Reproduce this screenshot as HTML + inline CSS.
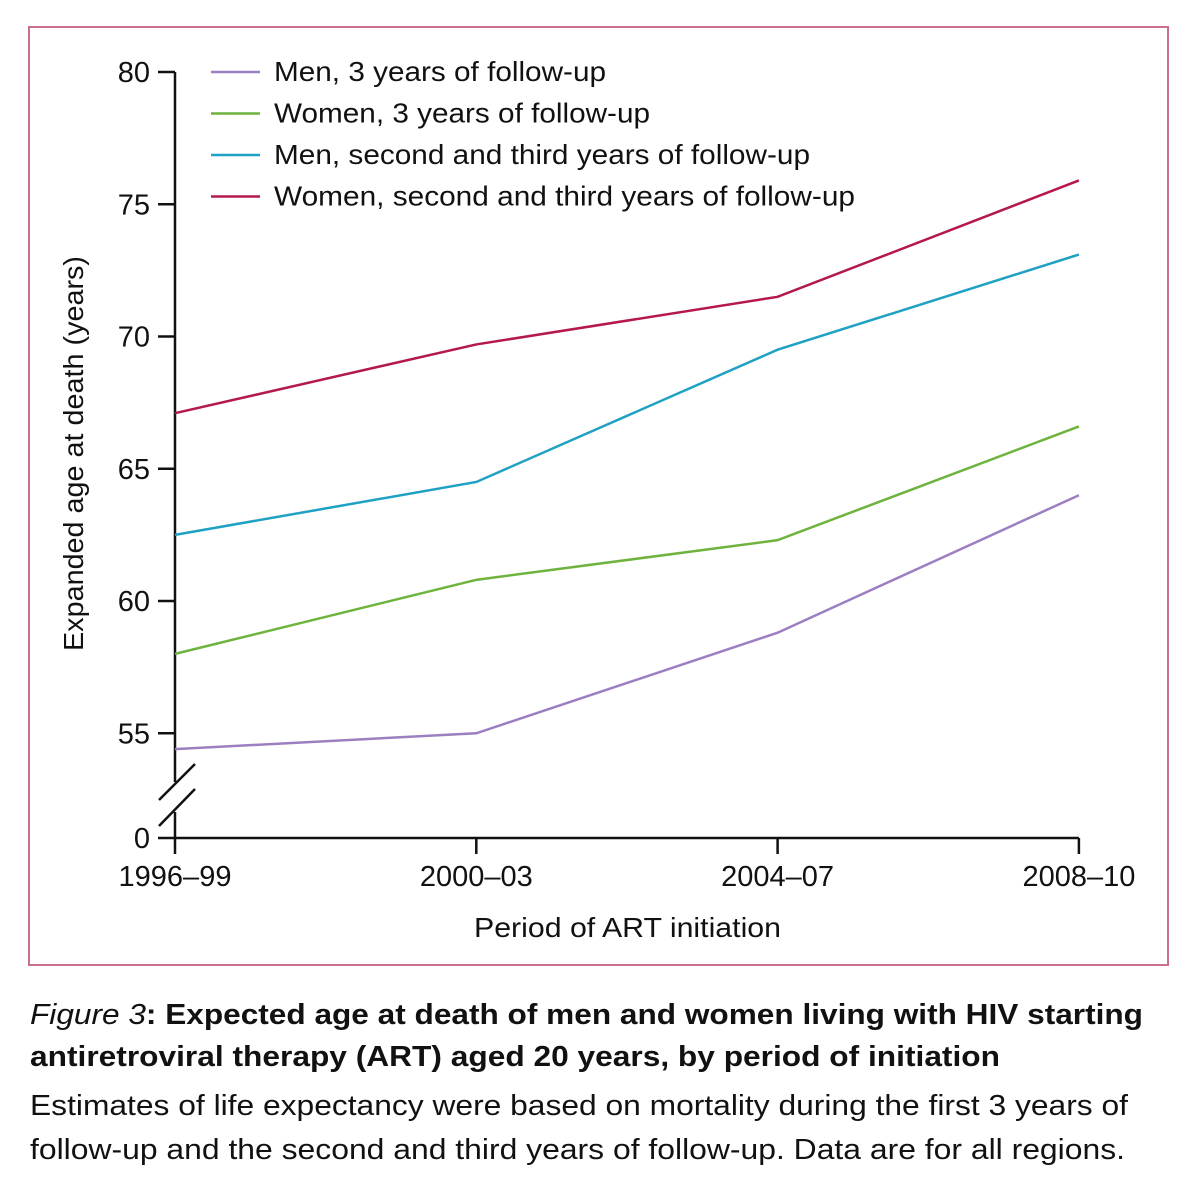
<!DOCTYPE html>
<html><head><meta charset="utf-8"><style>
body{margin:0;background:#fff;width:1200px;height:1186px;overflow:hidden;font-family:"Liberation Sans","DejaVu Sans",sans-serif}
#frame{position:absolute;left:28px;top:26px;width:1141px;height:940px;border:2px solid #c9708f;box-sizing:border-box}
</style></head><body>
<div id="frame"></div>
<svg id="chart" width="1200" height="1186" style="position:absolute;left:0;top:0">
<text x="30" y="1024" font-size="29" font-weight="bold" fill="#111" textLength="1113" lengthAdjust="spacingAndGlyphs"><tspan font-style="italic" font-weight="normal">Figure 3</tspan>: Expected age at death of men and women living with HIV starting</text>
<text x="30" y="1066" font-size="29" font-weight="bold" fill="#111" textLength="970" lengthAdjust="spacingAndGlyphs">antiretroviral therapy (ART) aged 20 years, by period of initiation</text>
<text x="30" y="1115" font-size="29" fill="#111" textLength="1098" lengthAdjust="spacingAndGlyphs">Estimates of life expectancy were based on mortality during the first 3 years of</text>
<text x="30" y="1159" font-size="29" fill="#111" textLength="1095" lengthAdjust="spacingAndGlyphs">follow-up and the second and third years of follow-up. Data are for all regions.</text>
</svg>
<script>
const categories=["1996–99","2000–03","2004–07","2008–10"];
const yTicks=[55,60,65,70,75,80];
const men3=[54.4,55.0,58.8,64.0];
const women3=[58.0,60.8,62.3,66.6];
const men23=[62.5,64.5,69.5,73.1];
const women23=[67.1,69.7,71.5,75.9];
const seriesNames=["Men, 3 years of follow-up","Women, 3 years of follow-up","Men, second and third years of follow-up","Women, second and third years of follow-up"];
const legendLens=[332,376,536,581];
const seriesColors=["#9b7fc1","#6fb33f","#1ea1c3","#b4194a"];
const svg=document.getElementById('chart');
const NS='http://www.w3.org/2000/svg';
function mk(t,a){const e=document.createElementNS(NS,t);for(const k in a)e.setAttribute(k,a[k]);svg.appendChild(e);return e;}
const x=i=>175+i*301.3;
const y=v=>72+(80-v)*26.45;
const X0=838;
let e;
e=mk('line',{x1:175,y1:y(80),x2:175,y2:782,stroke:'#111','stroke-width':2.5});


e=mk('line',{x1:175,y1:812,x2:175,y2:X0,stroke:'#111','stroke-width':2.5});


e=mk('line',{x1:159,y1:800,x2:195,y2:764,stroke:'#111','stroke-width':2.5});


e=mk('line',{x1:159,y1:826,x2:195,y2:789,stroke:'#111','stroke-width':2.5});


e=mk('line',{x1:158,y1:X0,x2:x(3),y2:X0,stroke:'#111','stroke-width':2.5});


yTicks.forEach(v=>{
 e=mk('line',{x1:158,y1:y(v),x2:175,y2:y(v),stroke:'#111','stroke-width':2.5});
 
 
 e=mk('text',{x:150,y:y(v)+10,'text-anchor':'end','font-size':29,fill:'#111'});e.textContent=v;
 
 
});
e=mk('text',{x:150,y:X0+10,'text-anchor':'end','font-size':29,fill:'#111'});e.textContent='0';


categories.forEach((c,i)=>{
 e=mk('line',{x1:x(i),y1:X0,x2:x(i),y2:854,stroke:'#111','stroke-width':2.5});
 
 
 e=mk('text',{x:x(i),y:886,'text-anchor':'middle','font-size':29,fill:'#111'});e.textContent=c;
 
 
});
e=mk('text',{x:474,y:937,'font-size':28,fill:'#111',textLength:307,lengthAdjust:'spacingAndGlyphs'});e.textContent='Period of ART initiation';


e=mk('text',{x:0,y:0,'font-size':28,fill:'#111',textLength:395,lengthAdjust:'spacingAndGlyphs',transform:'translate(83,651) rotate(-90)'});e.textContent='Expanded age at death (years)';


[men3,women3,men23,women23].forEach((s,k)=>{
 e=mk('polyline',{points:s.map((v,i)=>x(i)+','+y(v)).join(' '),fill:'none',stroke:seriesColors[k],'stroke-width':2.5});
 
 
 const ly=72+k*41.5;
 e=mk('line',{x1:211,y1:ly,x2:260,y2:ly,stroke:seriesColors[k],'stroke-width':2.5});
 
 
 e=mk('text',{x:274,y:ly+9,'font-size':28,fill:'#111',textLength:legendLens[k],lengthAdjust:'spacingAndGlyphs'});e.textContent=seriesNames[k];
 
 
});
</script>
</body></html>
